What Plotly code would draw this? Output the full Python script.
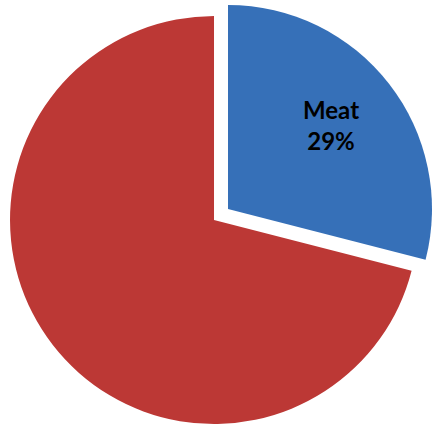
import math
import plotly.graph_objects as go

# Share of the diet
labels = ["Meat", "Other"]
values = [29, 71]

RED = "#BC3835"
BLUE = "#3670B8"

# Pie geometry (paper fractions) for the body and the exploded slice
BODY_DOMAIN = dict(x=[0.0231, 0.9654], y=[0.0070, 0.9625])
MEAT_DOMAIN = dict(x=[0.0554, 0.9977], y=[0.0328, 0.9883])
W, H = 433, 427

fig = go.Figure()

# Main body: the large red slice (Meat slice left empty, it is drawn exploded below)
fig.add_trace(go.Pie(
    labels=labels,
    values=values,
    sort=False,
    direction="clockwise",
    rotation=0,
    marker=dict(colors=["rgba(0,0,0,0)", RED], line=dict(width=0)),
    textinfo="none",
    hoverinfo="label+percent",
    showlegend=False,
    domain=BODY_DOMAIN,
))

# Exploded Meat slice, shifted out along its mid-angle
fig.add_trace(go.Pie(
    labels=labels,
    values=values,
    sort=False,
    direction="clockwise",
    rotation=0,
    marker=dict(colors=[BLUE, "rgba(0,0,0,0)"], line=dict(width=0)),
    textinfo="none",
    hoverinfo="label+percent",
    showlegend=False,
    domain=MEAT_DOMAIN,
))

# Data label for the Meat slice, placed along the slice's mid-angle
total = sum(values)
share = values[0] / total
mid = 2 * math.pi * share / 2
cx = sum(MEAT_DOMAIN["x"]) / 2
cy = sum(MEAT_DOMAIN["y"]) / 2
r_px = (MEAT_DOMAIN["x"][1] - MEAT_DOMAIN["x"][0]) * W / 2
dist = 0.64 * r_px
fig.add_annotation(
    x=cx + dist * math.sin(mid) / W,
    y=cy + dist * math.cos(mid) / H,
    xref="paper", yref="paper",
    xanchor="center", yanchor="middle",
    yshift=4,
    text=f"<b>{labels[0]}<br>{round(share * 100)}%</b>",
    showarrow=False,
    font=dict(family="Lato, Open Sans, sans-serif", size=24, color="black"),
)

fig.update_layout(
    width=W,
    height=H,
    margin=dict(l=0, r=0, t=0, b=0),
    paper_bgcolor="white",
    plot_bgcolor="white",
)

fig.write_html("out.html")
